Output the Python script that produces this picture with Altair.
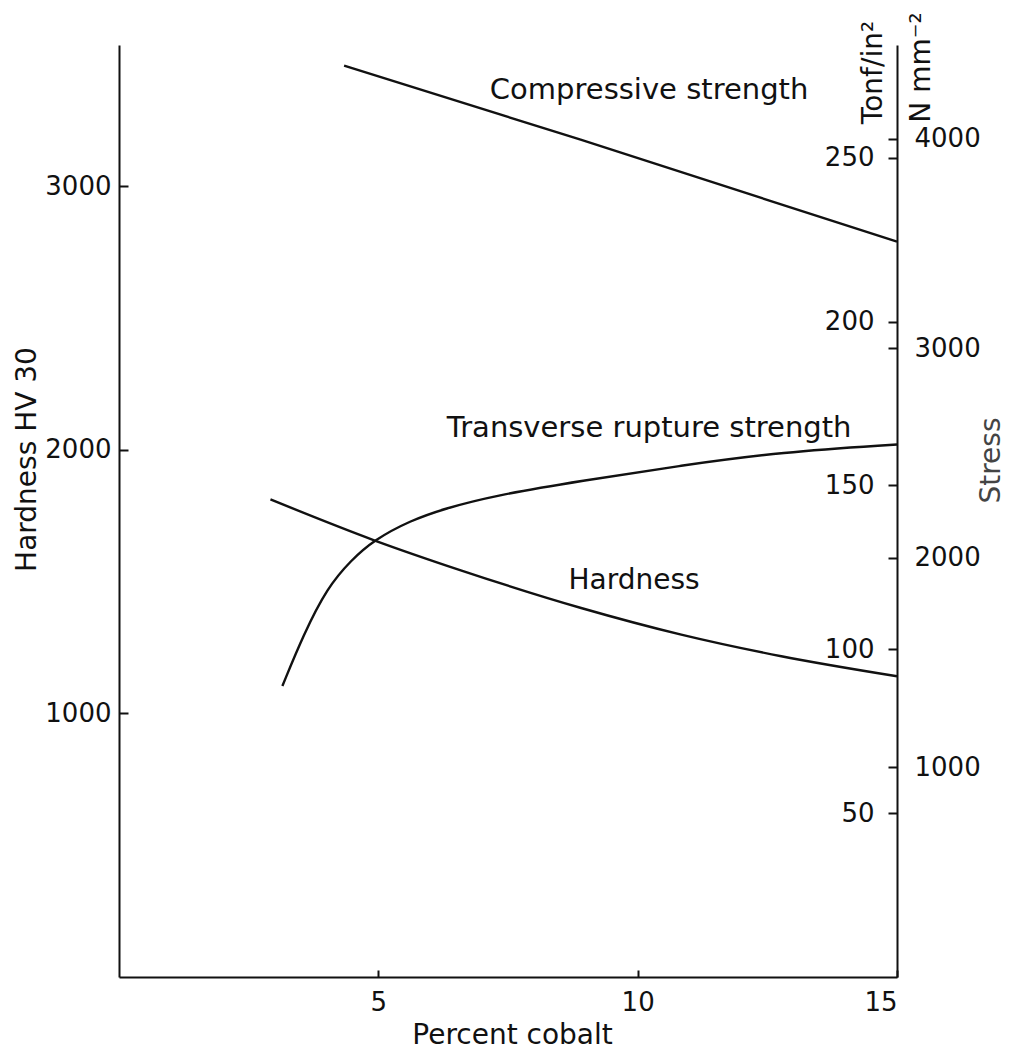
import altair as alt
import pandas as pd

# ---- data ----
cobalt_hardness = [2.92, 4.92, 6.59, 8.91, 10.84, 12.77, 15.0]
hardness_hv = [1812, 1657, 1543, 1400, 1299, 1217, 1141]

cobalt_trs = [3.15, 3.56, 4.02, 4.47, 4.92, 5.62, 6.27, 7.23, 8.91, 10.84, 12.77, 15.0]
trs_tonf = [88.8, 104.6, 118.9, 127.1, 133.4, 139.3, 142.9, 146.9, 151.4, 156.1, 160.2, 162.5]

cobalt_comp = [4.34, 8.9, 15.0]
comp_tonf = [278.1, 255.5, 224.4]

x_ticks = [5, 10, 15]
hv_ticks = [1000, 2000, 3000]
tonf_ticks = [50, 100, 150, 200, 250]
nmm_ticks = [1000, 2000, 3000, 4000]

label_text = ["Compressive strength", "Transverse rupture strength"]
label_x = [10.22, 10.22]
label_tonf = [270.8, 167.4]
hard_label = ["Hardness"]
hard_label_x = [9.93]
hard_label_hv = [1502]

X_DOMAIN = [0, 15]
HV_DOMAIN = [0, 3536]
TONF_DOMAIN = [0, 284.4]
NMM_DOMAIN = [0, 4448]

W, H = 778, 932
FONT = "DejaVu Sans"
INK = "#111111"

df_h = pd.DataFrame({"cobalt": cobalt_hardness, "hv": hardness_hv})
df_c = pd.DataFrame({"cobalt": cobalt_comp, "tonf": comp_tonf})
df_t = pd.DataFrame({"cobalt": cobalt_trs, "tonf": trs_tonf})
df_n = pd.DataFrame({"cobalt": [15] * len(nmm_ticks), "nmm": nmm_ticks})
df_lab = pd.DataFrame({"cobalt": label_x, "tonf": label_tonf, "text": label_text})
df_hlab = pd.DataFrame({"cobalt": hard_label_x, "hv": hard_label_hv, "text": hard_label})


def xs():
    return alt.Scale(domain=X_DOMAIN, nice=False, zero=False)


hv_scale = alt.Scale(domain=HV_DOMAIN, nice=False, zero=False)
tonf_scale = alt.Scale(domain=TONF_DOMAIN, nice=False, zero=False)
nmm_scale = alt.Scale(domain=NMM_DOMAIN, nice=False, zero=False)

# Hardness curve + left labels axis + bottom labels axis
hard = alt.Chart(df_h).mark_line(color=INK, strokeWidth=2.4, interpolate="monotone").encode(
    x=alt.X("cobalt:Q", scale=xs(), axis=alt.Axis(
        orient="bottom", values=x_ticks, format="d", ticks=False, tickSize=0,
        labelPadding=12, grid=False, domain=True, domainColor=INK, domainWidth=2,
        title="Percent cobalt", titleX=393, titleY=58, titleAlign="center",
        titleBaseline="middle", titleAnchor="start")),
    y=alt.Y("hv:Q", scale=hv_scale, axis=alt.Axis(
        orient="left", values=hv_ticks, format="d", ticks=False, tickSize=0,
        labelPadding=8, grid=False, domain=True, domainColor=INK, domainWidth=2,
        title="Hardness HV 30", titleX=-92, titleY=414, titleAngle=270,
        titleAlign="center", titleBaseline="middle", titleAnchor="start")),
)

# inward ticks for x (pointing up) and hardness (pointing right)
hard_ticks = alt.Chart(df_h).mark_point(opacity=0).encode(
    x=alt.X("cobalt:Q", scale=xs(), title=None, axis=alt.Axis(
        orient="top", offset=-H, values=x_ticks, labels=False, domain=False,
        grid=False, tickSize=7, tickColor=INK, tickWidth=2)),
    y=alt.Y("hv:Q", scale=hv_scale, title=None, axis=alt.Axis(
        orient="right", offset=-W, values=hv_ticks, labels=False, domain=False,
        grid=False, tickSize=9, tickColor=INK, tickWidth=2)),
)

hard_text = alt.Chart(df_hlab).mark_text(font=FONT, fontSize=28, color=INK,
                                         align="center", baseline="middle").encode(
    x=alt.X("cobalt:Q", scale=xs(), axis=None),
    y=alt.Y("hv:Q", scale=hv_scale, axis=None),
    text="text:N",
)

# Transverse rupture strength on the Tonf/in^2 scale; axis on the right edge, ticks inward
trs = alt.Chart(df_t).mark_line(color=INK, strokeWidth=2.4, interpolate="basis").encode(
    x=alt.X("cobalt:Q", scale=xs(), axis=None),
    y=alt.Y("tonf:Q", scale=tonf_scale, axis=alt.Axis(
        orient="left", offset=-W, values=tonf_ticks, format="d", tickSize=9,
        tickColor=INK, tickWidth=2, labelPadding=14, grid=False, domain=True,
        domainColor=INK, domainWidth=2, title="Tonf/in\u00b2", titleX=-24,
        titleY=27, titleAngle=270, titleAlign="center", titleBaseline="middle",
        titleAnchor="start")),
)

# Compressive strength (straight line)
comp = alt.Chart(df_c).mark_line(color=INK, strokeWidth=2.4).encode(
    x=alt.X("cobalt:Q", scale=xs(), axis=None),
    y=alt.Y("tonf:Q", scale=tonf_scale, axis=None),
)

stress_text = alt.Chart(df_lab).mark_text(font=FONT, fontSize=29, color=INK,
                                          align="center", baseline="middle").encode(
    x=alt.X("cobalt:Q", scale=xs(), axis=None),
    y=alt.Y("tonf:Q", scale=tonf_scale, axis=None),
    text="text:N",
)

# N mm^-2 scale: ticks pointing inward on the right edge
nmm_ticks_layer = alt.Chart(df_n).mark_point(opacity=0).encode(
    x=alt.X("cobalt:Q", scale=xs(), axis=None),
    y=alt.Y("nmm:Q", scale=nmm_scale, axis=alt.Axis(
        orient="left", offset=-W, values=nmm_ticks, labels=False, domain=False,
        grid=False, tickSize=9, tickColor=INK, tickWidth=2,
        title="N mm\u207b\u00b2", titleX=24, titleY=22, titleAngle=270,
        titleAlign="center", titleBaseline="middle", titleAnchor="start")),
)

# N mm^-2 labels to the right of the axis + "Stress" title
nmm_labels_layer = alt.Chart(df_n).mark_point(opacity=0).encode(
    x=alt.X("cobalt:Q", scale=xs(), axis=None),
    y=alt.Y("nmm:Q", scale=nmm_scale, axis=alt.Axis(
        orient="right", values=nmm_ticks, format="d", ticks=False, tickSize=0,
        labelPadding=17, domain=False, grid=False, title="Stress", titleX=94,
        titleY=415, titleAngle=270, titleAlign="center", titleBaseline="middle",
        titleAnchor="start", titleColor="#444444")),
)

chart = alt.layer(
    hard, hard_ticks, hard_text, trs, comp, stress_text, nmm_ticks_layer, nmm_labels_layer
).resolve_scale(x="independent", y="independent").properties(
    width=W, height=H,
    autosize=alt.AutoSizeParams(type="none"),
    padding={"left": 111, "top": 37, "right": 113, "bottom": 72},
).configure_view(stroke=None).configure_axis(
    labelFont=FONT, labelFontSize=26, labelColor=INK,
    titleFont=FONT, titleFontSize=28, titleFontWeight="normal", titleColor=INK,
)

chart.save("out.html", embed_options={"renderer": "svg", "actions": False})
